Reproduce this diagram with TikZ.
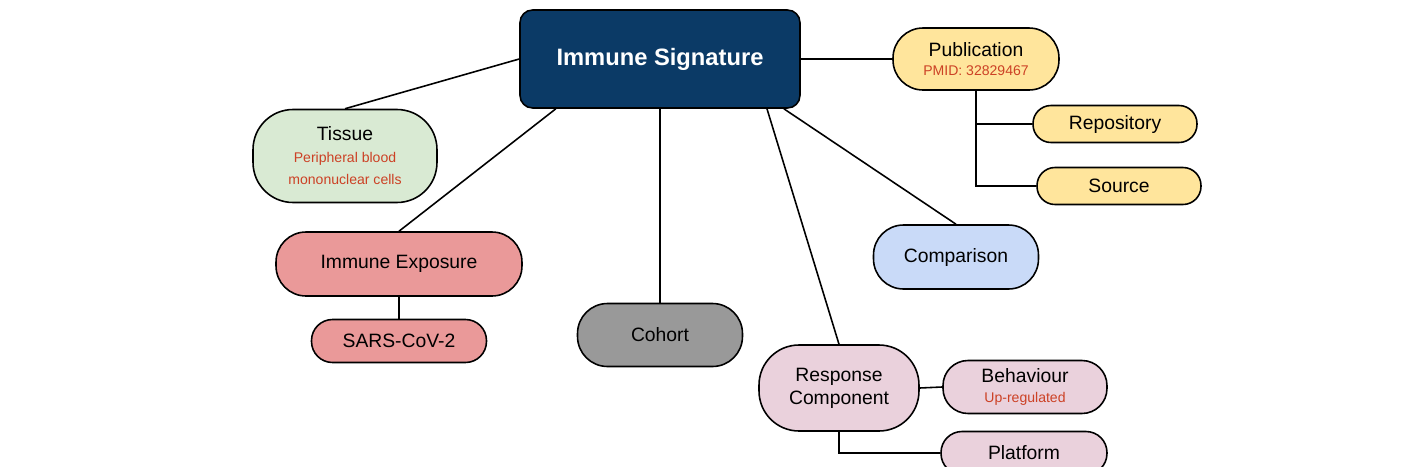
\documentclass[tikz,border=0pt]{standalone}
\usepackage{fontspec}
\setmainfont{Liberation Sans}
\usetikzlibrary{calc}
\definecolor{navy}{HTML}{0B3A66}
\definecolor{pubyellow}{HTML}{FFE59C}
\definecolor{tissuegreen}{HTML}{D9EAD3}
\definecolor{exposred}{HTML}{EA9999}
\definecolor{cohortgray}{HTML}{999999}
\definecolor{compblue}{HTML}{C9DAF8}
\definecolor{resppink}{HTML}{EAD1DC}
\definecolor{notered}{HTML}{CC4125}

\tikzset{
  box/.style={draw=black,line width=0.9pt,align=center,inner sep=0pt,font=\fontsize{11}{13}\selectfont},
  pill/.style={box,rounded corners=0.6cm},
  tag/.style={box,rounded corners=0.36cm},
  link/.style={line width=0.9pt}
}
\newcommand{\notetext}{\color{notered}\fontsize{8}{9.5}\selectfont}

\begin{document}
\begin{tikzpicture}[x=0.02cm,y=-0.02cm]
\useasboundingbox (0,0) rectangle (1418,467);
% central node
\node[box,rounded corners=0.25cm,fill=navy,text=white,minimum width=5.6cm,minimum height=1.96cm,
      font=\fontsize{13.5}{15}\selectfont\bfseries] (sig) at (660,59) {Immune Signature};
% publication branch
\node[pill,fill=pubyellow,minimum width=3.32cm,minimum height=1.24cm] (pub) at (976,59)
  {Publication\\[-2pt]\notetext PMID: 32829467};
\node[tag,fill=pubyellow,minimum width=3.28cm,minimum height=0.74cm] (repo) at (1115,124) {Repository};
\node[tag,fill=pubyellow,minimum width=3.28cm,minimum height=0.74cm] (src) at (1119,186) {Source};
% left side
\node[box,rounded corners=0.8cm,fill=tissuegreen,minimum width=3.68cm,minimum height=1.86cm] (tissue) at (345,156)
  {Tissue\\[-1pt]\notetext Peripheral blood\\\notetext mononuclear cells};
\node[pill,fill=exposred,minimum width=4.92cm,minimum height=1.28cm] (expo) at (399,264) {Immune Exposure};
\node[tag,fill=exposred,minimum width=3.5cm,minimum height=0.86cm,rounded corners=0.42cm] (sars) at (399,341) {SARS-CoV-2};
% lower middle
\node[pill,fill=cohortgray,minimum width=3.3cm,minimum height=1.26cm] (cohort) at (660,335) {Cohort};
\node[pill,fill=compblue,minimum width=3.3cm,minimum height=1.28cm] (comp) at (956,257) {Comparison};
\node[box,rounded corners=0.8cm,fill=resppink,minimum width=3.2cm,minimum height=1.72cm] (resp) at (839,388)
  {Response\\Component};
\node[pill,fill=resppink,minimum width=3.28cm,minimum height=1.06cm,rounded corners=0.5cm] (behav) at (1025,387)
  {Behaviour\\[-2pt]\notetext Up-regulated};
\node[tag,fill=resppink,minimum width=3.32cm,minimum height=0.86cm,rounded corners=0.42cm] (plat) at (1024,453) {Platform};

% connectors
\draw[link] (sig.east) -- (pub.west);
\draw[link] (pub.south) -- (pub.south |- repo.west) -- (repo.west);
\draw[link] (pub.south |- repo.west) -- (pub.south |- src.west) -- (src.west);
\draw[link] (sig.west) -- (tissue.north);
\draw[link] ($(sig.south west)!0.13!(sig.south east)$) -- (expo.north);
\draw[link] (expo.south) -- (sars.north);
\draw[link] (sig.south) -- (cohort.north);
\draw[link] ($(sig.south west)!0.88!(sig.south east)$) -- (resp.north);
\draw[link] ($(sig.south west)!0.94!(sig.south east)$) -- (comp.north);
\draw[link] (resp.east) -- (behav.west);
\draw[link] (resp.south) -- (resp.south |- plat.west) -- (plat.west);
\end{tikzpicture}
\end{document}
